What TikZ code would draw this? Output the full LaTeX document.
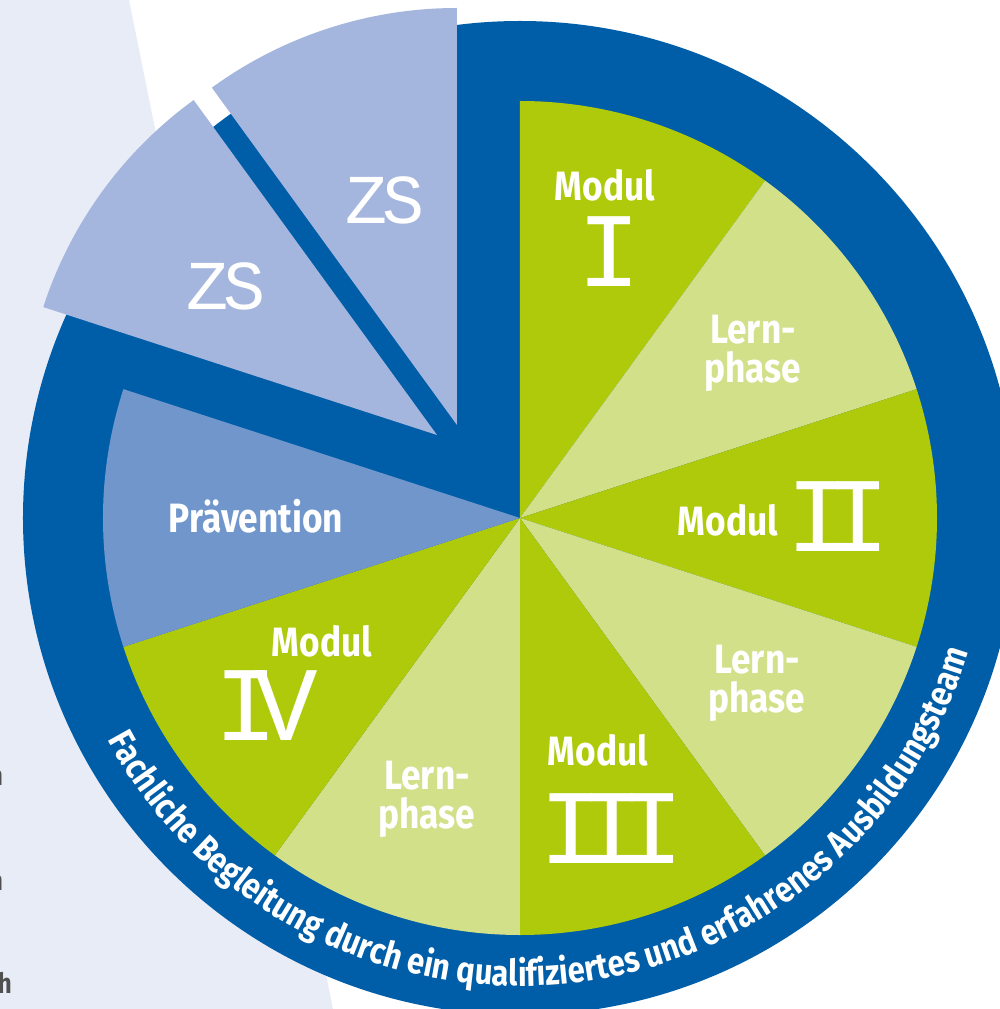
\documentclass[tikz,border=0pt]{standalone}
\usepackage{fontspec}
\usetikzlibrary{decorations.text}
\newfontfamily\labfont[FakeStretch=0.86]{Fira Sans}
\newfontfamily\chalkfont[LetterSpace=-22]{Liberation Mono}
\newfontfamily\zsfont[LetterSpace=-8]{Liberation Mono}
\definecolor{ringblue}{RGB}{0,94,168}
\definecolor{dgreen}{RGB}{175,202,11}
\definecolor{lgreen}{RGB}{211,224,138}
\definecolor{praeblue}{RGB}{112,150,204}
\definecolor{zsblue}{RGB}{165,182,222}
\definecolor{panelblue}{RGB}{232,236,247}
\definecolor{greytext}{RGB}{80,80,80}
\begin{document}
\begin{tikzpicture}[x=1pt,y=1pt,
  lab/.style={text=white,font=\labfont\bfseries\fontsize{41}{39}\selectfont,align=center,inner sep=0pt},
  num/.style={text=white,font=\chalkfont\fontsize{106}{106}\selectfont,inner sep=0pt},
  zslab/.style={text=white,font=\zsfont\fontsize{70}{70}\selectfont,inner sep=0pt},
  frag/.style={text=greytext,font=\labfont\fontsize{28}{28}\selectfont,inner sep=0pt,anchor=base east}]
\useasboundingbox (-520,-491) rectangle (479,518);
\fill[white] (-520,-491) rectangle (479,518);
% left panel
\fill[panelblue] (-520,518) -- (-391,518) -- (-187,-491) -- (-520,-491) -- cycle;
\node[frag] (f1) at (-516,-267) {n};
\node[frag] (f2) at (-516,-372) {n};
\node[frag,font=\labfont\bfseries\fontsize{28}{28}\selectfont] (f3) at (-508,-475) {h};
% ring
\fill[ringblue] (0,0) circle[radius=497pt];
% sectors
\fill[dgreen] (0,0) -- (54:417) arc[start angle=54,end angle=90,radius=417pt] -- cycle;
\fill[lgreen] (0,0) -- (18:417) arc[start angle=18,end angle=54,radius=417pt] -- cycle;
\fill[dgreen] (0,0) -- (-18:417) arc[start angle=-18,end angle=18,radius=417pt] -- cycle;
\fill[lgreen] (0,0) -- (-54:417) arc[start angle=-54,end angle=-18,radius=417pt] -- cycle;
\fill[dgreen] (0,0) -- (-90:417) arc[start angle=-90,end angle=-54,radius=417pt] -- cycle;
\fill[lgreen] (0,0) -- (-126:417) arc[start angle=-126,end angle=-90,radius=417pt] -- cycle;
\fill[dgreen] (0,0) -- (-162:417) arc[start angle=-162,end angle=-126,radius=417pt] -- cycle;
\fill[praeblue] (0,0) -- (162:417) arc[start angle=162,end angle=198,radius=417pt] -- cycle;
% exploded ZS sectors
\fill[zsblue] (-63,93) -- ++(90:417) arc[start angle=90,end angle=126,radius=417pt] -- cycle;
\fill[zsblue] (-83,83) -- ++(126:414) arc[start angle=126,end angle=162,radius=414pt] -- cycle;
% labels
\node[lab] (m1) at (85,333) {Modul};
\node[num] (n1) at (89,266) {I};
\node[lab] (l1) at (233,164.5) {Lern-\\phase};
\node[lab] (m2) at (208,-2) {Modul};
\node[num] (n2) at (318,1) {II};
\node[lab] (l2) at (237,-165.5) {Lern-\\phase};
\node[lab] (m3) at (78,-232) {Modul};
\node[num] (n3) at (92,-311) {III};
\node[lab] (l3) at (-93,-281.5) {Lern-\\phase};
\node[lab] (m4) at (-198,-123) {Modul};
\node[num] (n4) at (-254,-188) {IV};
\node[lab] (pr) at (-264,1.5) {Prävention};
\node[zslab] (z1) at (-135,318) {ZS};
\node[zslab] (z2) at (-294,232) {ZS};
% curved text
\path[decorate,decoration={text along path,text align=center,text color=white,
  text={|\labfont\bfseries\fontsize{36}{36}\selectfont|Fachliche Begleitung durch ein qualifiziertes und erfahrenes Ausbildungsteam}}]
  (195.8:468) arc[start angle=195.8,end angle=355.8,radius=468pt];
\end{tikzpicture}
\end{document}
